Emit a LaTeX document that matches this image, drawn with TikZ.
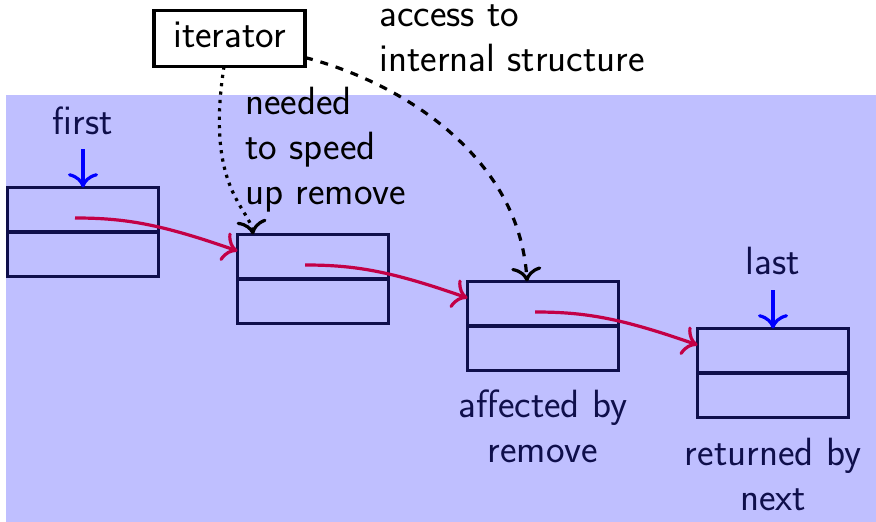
\documentclass[tikz,border=0pt]{standalone}
\usepackage{fontspec}
\usetikzlibrary{arrows.meta}
\definecolor{navy}{RGB}{15,15,75}
\definecolor{listbg}{RGB}{191,191,255}
\definecolor{linkred}{RGB}{195,0,70}
\begin{document}
\begin{tikzpicture}[x=0.5pt,y=-0.5pt,
  font=\sffamily\fontsize{19.7}{22.5}\selectfont,
  tip/.style={-{Computer Modern Rightarrow[scale=1.4]}},
  cell/.style={draw=navy, line width=1.6pt, minimum width=75.5pt,
    minimum height=44.5pt, inner sep=0pt, outer sep=0pt},
  link/.style={draw=linkred, line width=1.6pt, tip},
  pointer/.style={draw=blue, line width=1.6pt, tip},
  listlabel/.style={text=navy, inner sep=0pt, align=center, anchor=base},
  remark/.style={text=black, inner sep=0pt, align=left, anchor=base west},
]
\useasboundingbox (0,0) rectangle (876,522);
% list area
\fill[listbg] (6,95) rectangle (876,522);

% list cells
\node[cell] (b1) at (83,232) {};
\node[cell] (b2) at (313,279) {};
\node[cell] (b3) at (543,326) {};
\node[cell] (b4) at (773,373) {};
\foreach \b in {b1,b2,b3,b4}
  \draw[navy, line width=1.6pt] (\b.west) -- (\b.east);

% next links
\draw[link] ([shift={(-8,-14)}]b1.center) .. controls +(50,0) and +(-77,-27) .. ([shift={(0,-28)}]b2.west);
\draw[link] ([shift={(-8,-14)}]b2.center) .. controls +(50,0) and +(-77,-27) .. ([shift={(0,-28)}]b3.west);
\draw[link] ([shift={(-8,-14)}]b3.center) .. controls +(50,0) and +(-77,-27) .. ([shift={(0,-28)}]b4.west);

% first / last pointers
\node[listlabel] (first) at (83,135) {first};
\node[listlabel] (last) at (773,275) {last};
\coordinate (firstfrom) at ([shift={(0,-38)}]b1.north);
\coordinate (lastfrom) at ([shift={(0,-38)}]b4.north);
\draw[pointer] (firstfrom) -- (b1.north);
\draw[pointer] (lastfrom) -- (b4.north);

% iterator
\node[draw, line width=1.6pt, minimum width=75.5pt, minimum height=28pt,
  inner sep=0pt, outer sep=0pt, text height=13.2pt, text depth=3.7pt]
  (it) at (229.5,38.5) {iterator};
\draw[line width=1.6pt, dash pattern=on 1.6pt off 2.6pt, tip]
  ([shift={(-5.5,0)}]it.south) .. controls +(-19,122) and +(-3,-26) .. ([shift={(-60,0)}]b2.north);
\draw[line width=1.6pt, dash pattern=on 4pt off 4pt, tip]
  ([shift={(0,19)}]it.east) .. controls +(103,27) and +(-7,-121) .. ([shift={(-16,0)}]b3.north);

% remarks (base anchor sits on the last line)
\node[remark] (needed) at (245,205) {needed\\to speed\\up remove};
\node[remark] (access) at (379,72) {access to\\internal structure};
\node[listlabel] (affected) at (543,463) {affected by\\remove};
\node[listlabel] (returned) at (773,510) {returned by\\next};
\end{tikzpicture}
\end{document}
